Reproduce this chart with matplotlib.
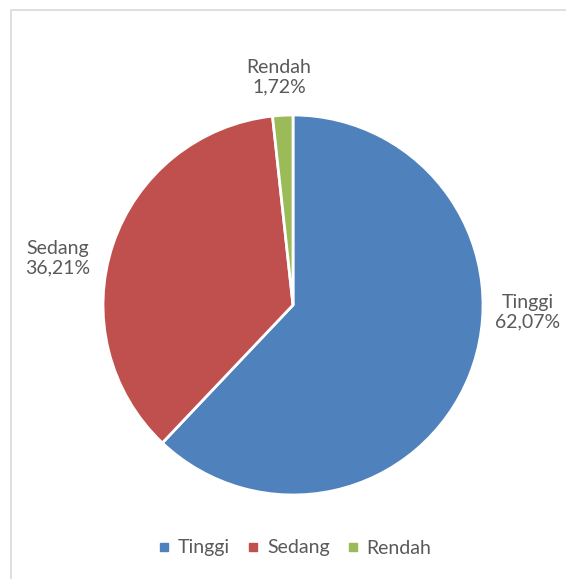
import matplotlib.pyplot as plt
from matplotlib.patches import Rectangle
from matplotlib.lines import Line2D

# data
labels = ['Tinggi', 'Sedang', 'Rendah']
values = [62.07, 36.21, 1.72]
colors = ['#4F81BD', '#C0504D', '#9BBB59']
pct_text = ['62,07%', '36,21%', '1,72%']

plt.rcParams['font.family'] = ['Lato', 'DejaVu Sans']
W, H = 566, 579
fig = plt.figure(figsize=(W / 100, H / 100), dpi=100)
ax = fig.add_axes([0, 0, 1, 1])
ax.set_xlim(0, W)
ax.set_ylim(0, H)
ax.axis('off')

# chart frame
ax.add_patch(Rectangle((11, -20), W + 20, H - 10 + 20, fill=False,
                       edgecolor='#D9D9D9', linewidth=1.2))

cx, cy, r = 293, H - 305, 190
ax.pie(values, colors=colors, startangle=90, counterclock=False,
       center=(cx, cy), radius=r,
       wedgeprops=dict(edgecolor='white', linewidth=2))
ax.set_xlim(0, W)
ax.set_ylim(0, H)
ax.set_aspect('equal')

# data labels
label_pos = [(528, H - 312), (58, H - 258), (279, H - 77)]
for lab, pt, (x, y) in zip(labels, pct_text, label_pos):
    ax.text(x, y, lab + '\n' + pt, ha='center', va='center',
            fontsize=14, color='#595959', linespacing=1.2)

handles = [Line2D([], [], marker='s', linestyle='', markersize=6,
                  markerfacecolor=c, markeredgecolor=c) for c in colors]
fig.legend(handles, labels, loc='center', bbox_to_anchor=(295 / W, 1 - 548 / H),
           ncol=3, frameon=False, fontsize=14, handlelength=0.6,
           handletextpad=0.4, columnspacing=0.9, labelcolor='#595959')

fig.savefig('out.png', dpi=100, facecolor='white')
